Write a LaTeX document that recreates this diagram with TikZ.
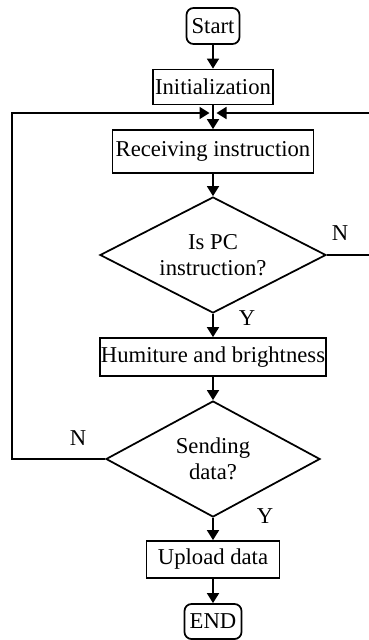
\documentclass[tikz,border=0pt]{standalone}
\usepackage{fontspec}
\setmainfont{Liberation Serif}
\usetikzlibrary{arrows.meta,positioning,shapes}
\newcommand{\flowfont}{\fontsize{12.9}{14.8}\selectfont}
\tikzset{
  procbox/.style={
    draw, line width=1pt, rectangle,
    inner sep=0pt, align=center
  },
  termbox/.style={
    procbox, rounded corners=1.4mm
  },
  decbox/.style={
    draw, line width=1pt, diamond, shape aspect=1.9,
    inner sep=0pt, align=center
  },
  flowline/.style={line width=1pt, -{Triangle[length=2mm,width=2.4mm]}},
  branchlabel/.style={inner sep=0pt}
}

\begin{document}
\begin{tikzpicture}[x=0.2mm,y=-0.2mm,font=\flowfont]
  \useasboundingbox (0,0) rectangle (368,640);
  % main column
  \node[termbox,minimum width=10.6mm,minimum height=7.2mm] (start) at (213,26) {Start};
  \node[procbox,minimum width=24mm,minimum height=7mm] (init) at (213,87) {Initialization};
  \node[procbox,minimum width=40.2mm,minimum height=8.6mm] (recv) at (213,151.5) {Receiving instruction};
  \node[decbox,minimum width=45.2mm,minimum height=23.2mm] (ispc) at (213,255) {Is PC\\instruction?};
  \node[procbox,minimum width=45.2mm,minimum height=7.6mm] (humi) at (213,357) {Humiture and brightness};
  \node[decbox,minimum width=42.8mm,minimum height=23.2mm] (send) at (213,459) {Sending\\data?};
  \node[procbox,minimum width=26.6mm,minimum height=7.4mm] (upload) at (213,559.5) {Upload data};
  \node[termbox,minimum width=11.4mm,minimum height=7mm] (stop) at (213,621.5) {END};
  % branch labels
  \node[branchlabel] (ispcno) at (340,233) {N};
  \node[branchlabel] (ispcyes) at (247,318) {Y};
  \node[branchlabel] (sendno) at (78,438) {N};
  \node[branchlabel] (sendyes) at (265,516) {Y};
  % loop lanes
  \coordinate (join) at (213,113);
  \coordinate (leftlane) at (12,113);
  \coordinate (rightlane) at (373,113);
  % connectors
  \draw[flowline] (start) -- (init);
  \draw[flowline] (init) -- (recv);
  \draw[flowline] (recv) -- (ispc);
  \draw[flowline] (ispc) -- (humi);
  \draw[flowline] (humi) -- (send);
  \draw[flowline] (send) -- (upload);
  \draw[flowline] (upload) -- (stop);
  \draw[flowline] (send.west) -- (send.west -| leftlane) |- ([xshift=-0.7mm]join);
  \draw[flowline] (ispc.east) -- (ispc.east -| rightlane) |- ([xshift=0.7mm]join);
\end{tikzpicture}
\end{document}
